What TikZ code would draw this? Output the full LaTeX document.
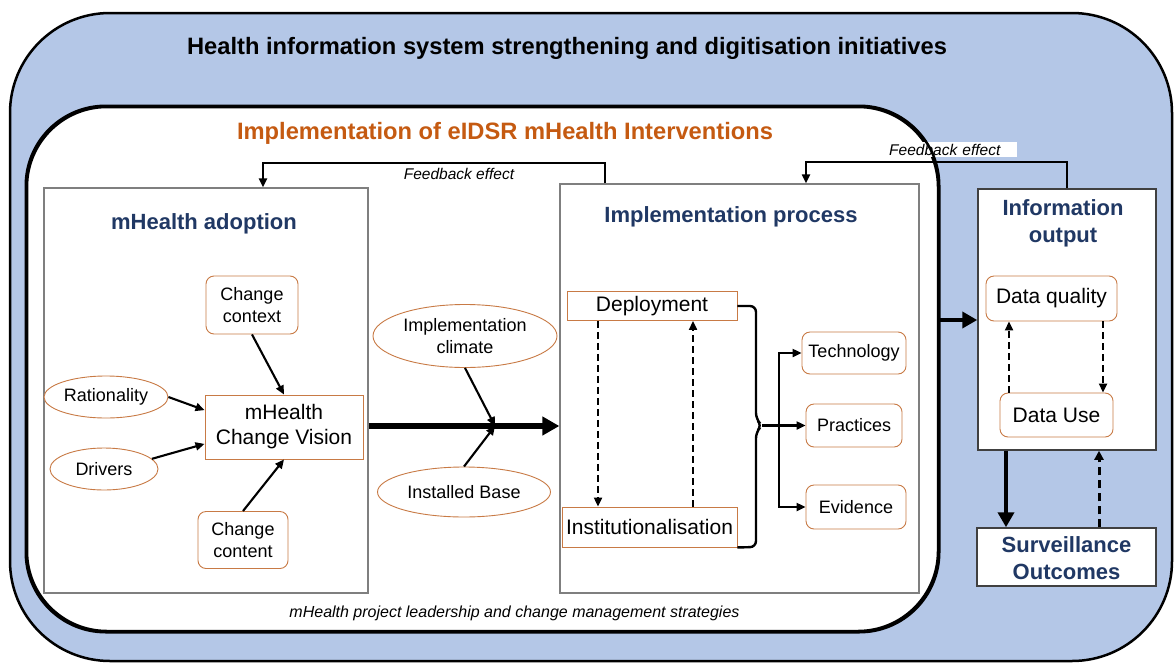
\documentclass[tikz,border=0pt]{standalone}
\usepackage{fontspec}
\setmainfont{Liberation Sans}
\usetikzlibrary{arrows.meta,shapes.geometric,calc}
\definecolor{bgblue}{HTML}{B4C7E7}
\definecolor{dblue}{HTML}{203864}
\definecolor{otitle}{HTML}{C55A11}
\definecolor{nodeor}{HTML}{C87A45}
\definecolor{boxgray}{HTML}{7F7F7F}
\definecolor{boxdark}{HTML}{404040}
\tikzset{
  txt/.style={font=\fontsize{18}{22}\selectfont, align=center},
  txtb/.style={font=\fontsize{21}{25}\selectfont, align=center},
  obox/.style={draw=nodeor, line width=0.9pt, fill=white, rounded corners=8pt, inner sep=0pt, align=center},
  orect/.style={draw=nodeor, line width=0.9pt, fill=white, inner sep=0pt, align=center},
  oell/.style={ellipse, draw=nodeor, line width=0.9pt, fill=white, inner sep=0pt, align=center},
  arr/.style={line width=2.1pt, -{Triangle[length=9pt,width=8pt]}},
  darr/.style={arr, dash pattern=on 7pt off 4pt},
  bigarr/.style={line width=6.5pt, -{Triangle[length=17pt,width=18pt]}},
  thickarr/.style={line width=4.5pt, -{Triangle[length=15pt,width=16pt]}},
  thickdarr/.style={line width=3pt, dash pattern=on 8pt off 5pt, -{Triangle[length=9pt,width=9pt]}},
  panel/.style={draw=boxgray, line width=1.3pt, fill=white, inner sep=0pt},
  dpanel/.style={draw=boxdark, line width=1.5pt, fill=white, inner sep=0pt},
  ptitle/.style={text=dblue, font=\bfseries\fontsize{22}{27}\selectfont, align=center},
  fb/.style={font=\itshape\fontsize{15.5}{18}\selectfont, inner sep=0pt}
}
\begin{document}
\begin{tikzpicture}[x=1pt,y=-1pt]
\useasboundingbox (0,0) rectangle (1174,664);
% containers
\node[draw, line width=2.5pt, fill=bgblue, rounded corners=100pt, minimum width=1162pt, minimum height=648pt, inner sep=0pt] (outer) at (591,337) {};
\node[draw, line width=2.5pt, fill=white, rounded corners=80pt, minimum width=911pt, minimum height=524pt, inner sep=0pt] (inner) at (482.5,369) {};
\node[font=\bfseries\fontsize{23.7}{28}\selectfont] (title) at (567,48) {Health information system strengthening and digitisation initiatives};
\node[text=otitle, font=\bfseries\fontsize{23.7}{28}\selectfont] (otit) at (505,133) {Implementation of eIDSR mHealth Interventions};

% panels
\node[panel, minimum width=324pt, minimum height=405pt] (adopt) at (206,390.5) {};
\node[panel, minimum width=359pt, minimum height=409pt] (impl) at (739.5,388.5) {};
\node[dpanel, minimum width=178pt, minimum height=261pt] (info) at (1067,319.5) {};
\node[dpanel, minimum width=179pt, minimum height=58pt] (surv) at (1066.5,557) {};

\node[ptitle] (adoptt) at (204,224) {mHealth adoption};
\node[ptitle] (implt) at (731,217) {Implementation process};
\node[ptitle] (infot) at (1063,223.5) {Information\\output};
\node[ptitle] (survt) at (1066.5,558) {Surveillance\\Outcomes};

% adoption nodes
\node[obox, txt, minimum width=92pt, minimum height=58pt] (ctx) at (252,305) {Change\\context};
\node[oell, txt, minimum width=124pt, minimum height=42pt] (rat) at (106,397) {Rationality};
\node[oell, txt, minimum width=108pt, minimum height=42pt] (drv) at (104,469) {Drivers};
\node[orect, txtb, minimum width=158pt, minimum height=64pt] (vis) at (284,427) {mHealth\\Change Vision};
\node[obox, txt, minimum width=90pt, minimum height=57pt] (cnt) at (243,540) {Change\\content};

\draw[arr] (ctx.south) -- (vis.north);
\draw[arr] (rat.east) -- (vis.168);
\draw[arr] (drv.12) -- (vis.192);
\draw[arr] (cnt.north) -- (vis.south);

% middle
\node[oell, txt, minimum width=184pt, minimum height=63pt] (clim) at (465,336) {Implementation\\climate};
\node[oell, txt, minimum width=173pt, minimum height=50pt] (inst) at (464,492) {Installed Base};
\coordinate (J) at (495,426);
\draw[bigarr] (adopt.east |- J) -- (impl.west |- J);
\draw[arr] (clim.south) -- (J);
\draw[arr] (inst.north) -- (J);

% implementation process
\node[orect, txtb, minimum width=170pt, minimum height=29pt] (dep) at (652,306) {Deployment};
\node[orect, txtb, minimum width=175pt, minimum height=40pt] (instit) at (649.5,527) {Institutionalisation};
\node[obox, txt, minimum width=104pt, minimum height=42pt] (tech) at (854,353) {Technology};
\node[obox, txt, minimum width=96pt, minimum height=43pt] (prac) at (854,425.5) {Practices};
\node[obox, txt, minimum width=100pt, minimum height=44pt] (evid) at (856,507) {Evidence};

\coordinate (d1) at (598,0);
\coordinate (d2) at (693,0);
\draw[darr] (dep.south -| d1) -- (instit.north -| d1);
\draw[darr] (instit.north -| d2) -- (dep.south -| d2);

\coordinate (B) at (762,425.5);
\draw[line width=2.4pt, rounded corners=6pt] (dep.east) -- (756,306) -- (756,419) -- (B) -- (756,432) -- (756,547) -- (instit.south east);
\draw[arr] (B) -- (prac.west);
\coordinate (V) at (779,425.5);
\draw[arr] (V) |- (tech.west);
\draw[arr] (V) |- (evid.west);

% info output
\node[obox, txtb, minimum width=131pt, minimum height=45pt] (dq) at (1051.5,298.5) {Data quality};
\node[obox, txtb, minimum width=113pt, minimum height=44pt] (du) at (1056.5,415) {Data Use};
\coordinate (c1) at (1009,0);
\coordinate (c2) at (1103,0);
\draw[darr] (du.north -| c1) -- (dq.south -| c1);
\draw[darr] (dq.south -| c2) -- (du.north -| c2);
\coordinate (c3) at (1006,0);
\coordinate (c4) at (1099,0);
\draw[thickarr] (info.south -| c3) -- (surv.north -| c3);
\draw[thickdarr] (surv.north -| c4) -- (info.south -| c4);
\coordinate (A) at (0,320);
\draw[thickarr] (inner.east |- A) -- (info.west |- A);

% feedback
\coordinate (fbA) at (263,163);
\coordinate (fbB) at (605,163);
\draw[arr] (impl.north -| fbB) -- (fbB) -- (fbA) -- (adopt.north -| fbA);
\node[fb] (fbl) at (459,174) {Feedback effect};
\coordinate (fbC) at (1067,162);
\coordinate (fbD) at (806,162);
\draw[arr] (info.north -| fbC) -- (fbC) -- (fbD) -- (impl.north -| fbD);
\node[fb, fill=white, anchor=west, text width=127pt, inner sep=1pt, minimum height=15pt] (fbr) at (888,149.5) {Feedback effect};
\draw[line width=2.5pt, rounded corners=80pt] (inner.south west) rectangle (inner.north east);

\node[fb, font=\itshape\fontsize{16}{19}\selectfont] (bottom) at (514.5,613) {mHealth project leadership and change management strategies};
\end{tikzpicture}
\end{document}
